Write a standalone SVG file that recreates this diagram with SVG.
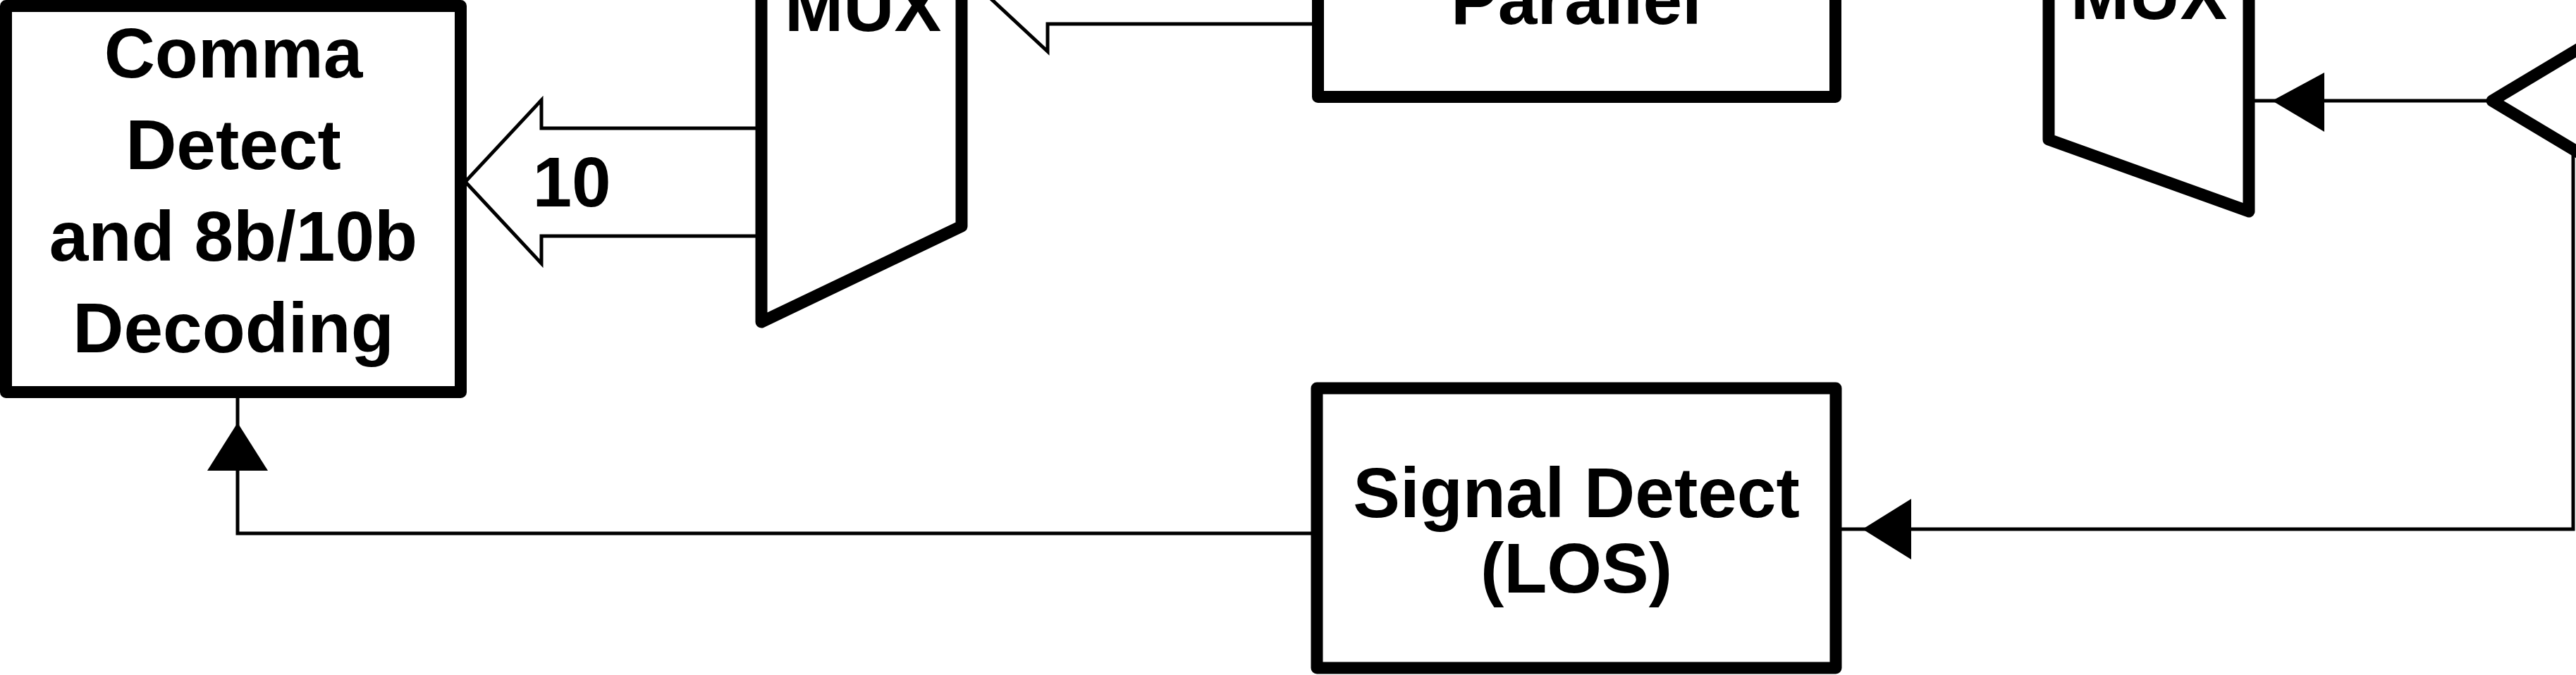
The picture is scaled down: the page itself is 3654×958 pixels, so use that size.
<svg xmlns="http://www.w3.org/2000/svg" width="3654" height="958" viewBox="0 0 3654 958">
<style>
.blk{fill:#fff;stroke:#000;stroke-width:17;stroke-linejoin:round}
.wire{fill:none;stroke:#000;stroke-width:5;stroke-linejoin:miter}
.bus{fill:none;stroke:#000;stroke-width:5;stroke-linejoin:miter}
.head{fill:#000;stroke:none}
.lbl{font-family:"Liberation Sans",Arial,sans-serif;font-weight:bold;font-size:100px;fill:#000;text-anchor:middle}
</style>
<rect x="0" y="0" width="3654" height="958" fill="#fff"/>
<g id="comma-detect">
<rect class="blk" x="8.5" y="8.5" width="645" height="548"/>
<text class="lbl" x="331" y="110">Comma</text>
<text class="lbl" x="331" y="240">Detect</text>
<text class="lbl" x="331" y="370">and 8b/10b</text>
<text class="lbl" x="331" y="500">Decoding</text>
</g>
<g id="mux-left">
<polygon class="blk" points="1080,-400 1080,457 1364,321 1364,-260"/>
<text class="lbl" x="1224" y="44">MUX</text>
</g>
<g id="parallel">
<rect class="blk" x="1869.5" y="-200" width="734" height="337.5"/>
<text class="lbl" x="2236" y="34">Parallel</text>
</g>
<g id="signal-detect">
<rect class="blk" x="1868" y="551" width="736" height="397"/>
<text class="lbl" x="2236" y="734">Signal Detect</text>
<text class="lbl" x="2236" y="841">(LOS)</text>
</g>
<g id="mux-right">
<polygon class="blk" points="2906,-300 2906,198 3190,300 3190,-400"/>
<text class="lbl" x="3048" y="27">MUX</text>
</g>
<g id="buffer">
<polyline class="blk" fill="none" style="fill:none" points="3775,-1 3535,143 3775,287"/>
</g>
<g id="connectors">
<polyline class="bus" points="1080,182 768,182 768,142 660,258 768,374 768,335 1080,335"/>
<text class="lbl" x="811" y="293">10</text>
<polyline class="bus" points="1869,34 1486,34 1486,73 1372,-33"/>
<polyline class="wire" points="1868,757 337,757 337,565"/>
<polygon class="head" points="337,600 294,668 380,668"/>
<polyline class="wire" points="3650,212 3650,751 2612,751"/>
<polygon class="head" points="2642,751 2711,708 2711,794"/>
<line class="wire" x1="3532" y1="143" x2="3198" y2="143"/>
<polygon class="head" points="3223,143 3297,103 3297,187"/>
</g>
</svg>
